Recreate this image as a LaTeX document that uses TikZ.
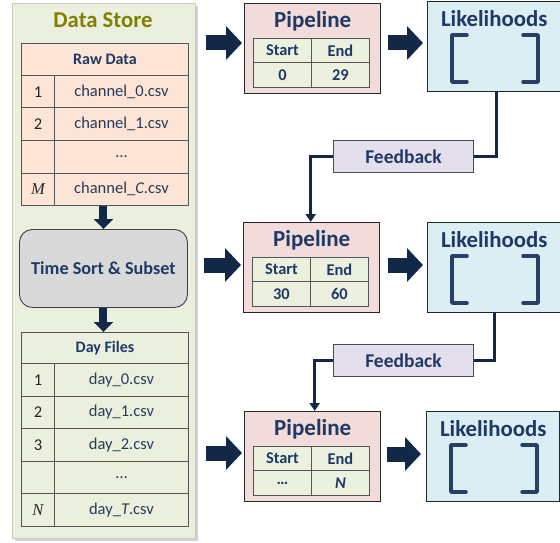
\documentclass[tikz,border=0pt]{standalone}
\usepackage{fontspec}
\setmainfont{Carlito}
\newfontfamily\mathlike{Liberation Serif}
\usetikzlibrary{arrows.meta,shadows,calc}
\definecolor{panelfill}{RGB}{235,240,222}
\definecolor{panelline}{RGB}{200,204,190}
\definecolor{olive}{RGB}{128,128,0}
\definecolor{navy}{RGB}{31,56,100}
\definecolor{arrownavy}{RGB}{18,40,70}
\definecolor{cellnavy}{RGB}{40,58,90}
\definecolor{cellline}{RGB}{85,85,85}
\definecolor{peach}{RGB}{252,228,214}
\definecolor{pipefill}{RGB}{242,220,219}
\definecolor{innerfill}{RGB}{235,241,222}
\definecolor{likefill}{RGB}{218,238,243}
\definecolor{fbfill}{RGB}{228,223,236}
\definecolor{tsfill}{RGB}{217,217,217}
\definecolor{bracketcol}{RGB}{40,64,100}
\begin{document}
\begin{tikzpicture}[x=1pt,y=-1pt,
  nw/.style={anchor=north west, inner sep=0pt},
  panel/.style={nw, fill=panelfill, draw=panelline, line width=0.8pt,
    drop shadow={shadow xshift=3pt, shadow yshift=-3pt, opacity=0.35}},
  cell/.style={nw, draw=cellline, line width=0.9pt, text=cellnavy,
    font=\fontsize{16.5}{18}\selectfont},
  numcell/.style={cell, text=black!85},
  headcell/.style={cell, text=navy, font=\bfseries\fontsize{16}{18}\selectfont},
  pipebox/.style={nw, fill=pipefill, draw=black!85, line width=1.4pt,
    minimum width=136, minimum height=90},
  likebox/.style={nw, fill=likefill, draw=black!85, line width=1.4pt,
    minimum width=133, minimum height=90},
  inner/.style={nw, fill=innerfill, draw=cellline, line width=0.9pt, text=navy,
    font=\bfseries\fontsize{16.4}{18}\selectfont, minimum width=58},
  ptitle/.style={text=navy, font=\bfseries\fontsize{23}{26}\selectfont, inner sep=0pt},
  ltitle/.style={text=navy, font=\bfseries\fontsize{22.8}{26}\selectfont, inner sep=0pt},
  fbbox/.style={nw, fill=fbfill, draw=black!70, line width=0.9pt, text=navy,
    font=\bfseries\fontsize{19.5}{22}\selectfont, minimum width=140, minimum height=32},
  tsbox/.style={nw, fill=tsfill, draw=black!75, line width=0.9pt, rounded corners=13pt,
    text=navy, font=\bfseries\fontsize{18.2}{21}\selectfont, minimum width=168, minimum height=78},
  blockarrow/.style={draw=arrownavy, line width=15pt, -{Triangle[width=33pt,length=16pt]}},
  downarrow/.style={draw=arrownavy, line width=8pt, -{Triangle[width=19pt,length=10pt]}},
  fbline/.style={draw=arrownavy, line width=3pt},
  fbarrow/.style={fbline, -{Triangle[width=10pt,length=8pt]}},
  bracket/.style={draw=bracketcol, line width=3.5pt, line cap=round, line join=round}
]
\useasboundingbox (0,0) rectangle (560,543);

% ---------- left panel ----------
\node[panel, minimum width=183, minimum height=535] (panel) at (12,3) {};
\node[text=olive, font=\bfseries\fontsize{22.7}{26}\selectfont] (dstitle) at (103,20) {Data Store};

% Raw Data table
\node[headcell, fill=peach, minimum width=167, minimum height=32] (rawhead) at (21,43) {Raw Data};
\node[numcell, fill=peach, minimum width=33, minimum height=32.5] (rawn1) at (21,75) {1};
\node[cell, fill=peach, minimum width=134, minimum height=32.5] (raw1) at (54,75) {channel\_0.csv};
\node[numcell, fill=peach, minimum width=33, minimum height=32.5] (rawn2) at (21,107.5) {2};
\node[cell, fill=peach, minimum width=134, minimum height=32.5] (raw2) at (54,107.5) {channel\_1.csv};
\node[numcell, fill=peach, minimum width=33, minimum height=32.5] (rawn3) at (21,140) {};
\node[cell, fill=peach, minimum width=134, minimum height=32.5] (raw3) at (54,140) {\ldots};
\node[numcell, fill=peach, minimum width=33, minimum height=32.5] (rawn4) at (21,172.5) {\mathlike\itshape M};
\node[cell, fill=peach, minimum width=134, minimum height=32.5] (raw4) at (54,172.5) {channel\_\textit{C}.csv};

% Time sort box
\node[tsbox] (ts) at (19,229) {Time Sort \& Subset};

% Day Files table
\node[headcell, minimum width=167, minimum height=31] (dayhead) at (21,332) {Day Files};
\node[numcell, minimum width=33, minimum height=32.6] (dayn1) at (21,363) {1};
\node[cell, minimum width=134, minimum height=32.6] (day1) at (54,363) {day\_0.csv};
\node[numcell, minimum width=33, minimum height=32.6] (dayn2) at (21,395.6) {2};
\node[cell, minimum width=134, minimum height=32.6] (day2) at (54,395.6) {day\_1.csv};
\node[numcell, minimum width=33, minimum height=32.6] (dayn3) at (21,428.2) {3};
\node[cell, minimum width=134, minimum height=32.6] (day3) at (54,428.2) {day\_2.csv};
\node[numcell, minimum width=33, minimum height=32.6] (dayn4) at (21,460.8) {};
\node[cell, minimum width=134, minimum height=32.6] (day4) at (54,460.8) {\ldots};
\node[numcell, minimum width=33, minimum height=32.6] (dayn5) at (21,493.4) {\mathlike\itshape N};
\node[cell, minimum width=134, minimum height=32.6] (day5) at (54,493.4) {day\_\textit{T}.csv};

\draw[downarrow] (ts.north |- rawn4.south) -- (ts.north);
\draw[downarrow] (ts.south) -- (ts.south |- dayhead.north);

% ---------- pipelines ----------
\node[pipebox] (P1) at (244,3) {};
\node[ptitle] (P1t) at ($(P1.north)+(0,18)$) {Pipeline};
\node[inner, minimum height=24] (P1s) at ($(P1.north west)+(9,35)$) {Start};
\node[inner, minimum height=24] (P1e) at ($(P1.north west)+(67,35)$) {End};
\node[inner, minimum height=25] (P1a) at ($(P1.north west)+(9,59)$) {0};
\node[inner, minimum height=25] (P1b) at ($(P1.north west)+(67,59)$) {29};

\node[pipebox] (P2) at (243,222) {};
\node[ptitle] (P2t) at ($(P2.north)+(0,18)$) {Pipeline};
\node[inner, minimum height=24] (P2s) at ($(P2.north west)+(9,35)$) {Start};
\node[inner, minimum height=24] (P2e) at ($(P2.north west)+(67,35)$) {End};
\node[inner, minimum height=25] (P2a) at ($(P2.north west)+(9,59)$) {30};
\node[inner, minimum height=25] (P2b) at ($(P2.north west)+(67,59)$) {60};

\node[pipebox] (P3) at (244,411) {};
\node[ptitle] (P3t) at ($(P3.north)+(0,18)$) {Pipeline};
\node[inner, minimum height=24] (P3s) at ($(P3.north west)+(9,35)$) {Start};
\node[inner, minimum height=24] (P3e) at ($(P3.north west)+(67,35)$) {End};
\node[inner, minimum height=25] (P3a) at ($(P3.north west)+(9,59)$) {\ldots};
\node[inner, minimum height=25] (P3b) at ($(P3.north west)+(67,59)$) {\textit{N}};

% ---------- likelihoods ----------
\node[likebox] (L1) at (427,1) {};
\node[likebox] (L2) at (427,222) {};
\node[likebox] (L3) at (426,411) {};
\foreach \L in {L1,L2,L3}{
  \node[ltitle] (\L t) at ($(\L.north)+(0,18)$) {Likelihoods};
  \draw[bracket] ($(\L.north west)+(40,34)$) -- ($(\L.north west)+(25,34)$)
     -- ($(\L.north west)+(25,81)$) -- ($(\L.north west)+(40,81)$);
  \draw[bracket] ($(\L.north west)+(96,34)$) -- ($(\L.north west)+(111,34)$)
     -- ($(\L.north west)+(111,81)$) -- ($(\L.north west)+(96,81)$);
}

% ---------- feedback ----------
\node[fbbox] (F1) at (333,140) {Feedback};
\node[fbbox] (F2) at (333,344) {Feedback};
\draw[fbline] ([xshift=2pt]L1.south) |- (F1.east);
\draw[fbarrow] (F1.west) -| ([xshift=-1pt]P2.north);
\draw[fbline] (L2.south) |- (F2.east);
\draw[fbarrow] (F2.west) -| ([xshift=2pt]P3.north);

% ---------- block arrows ----------
\coordinate (a1) at (206,43);
\coordinate (a2) at (204,265);
\coordinate (a3) at (206,453);
\draw[blockarrow, shorten >=2pt] (a1) -- (P1.west |- a1);
\draw[blockarrow, shorten >=2pt] (a2) -- (P2.west |- a2);
\draw[blockarrow, shorten >=2pt] (a3) -- (P3.west |- a3);
\draw[blockarrow, shorten <=7pt, shorten >=4pt] (P1.east |- a1) -- (L1.west |- a1);
\draw[blockarrow, shorten <=8pt, shorten >=4pt] (P2.east |- a2) -- (L2.west |- a2);
\draw[blockarrow, shorten <=6pt, shorten >=5pt] ($(P3.east |- a3)+(0,1)$) -- ($(L3.west |- a3)+(0,1)$);
\end{tikzpicture}
\end{document}
